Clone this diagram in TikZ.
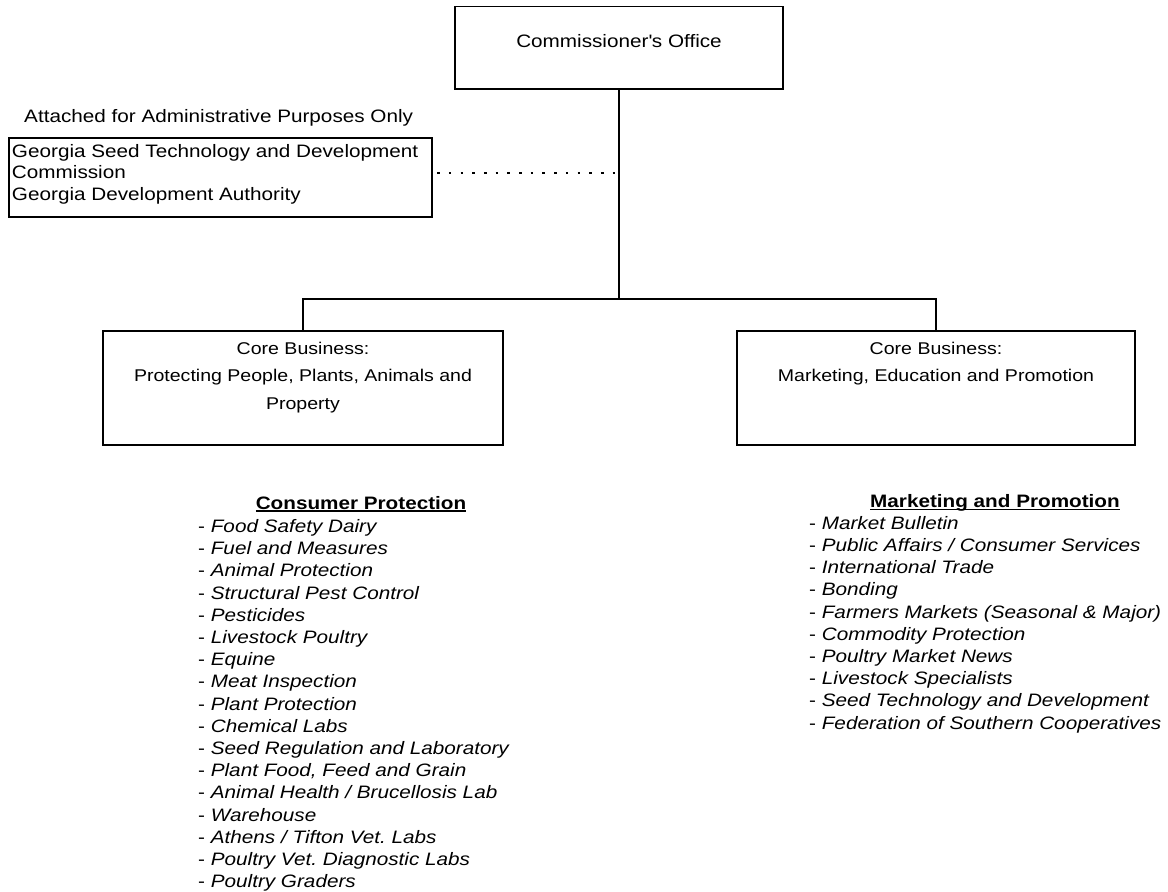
\documentclass[tikz,border=0pt]{standalone}
\usepackage{fontspec}
\setmainfont{Liberation Sans}[FakeStretch=1.15]
\frenchspacing
% bold heading with a rule just under the baseline
\newcommand{\headul}[1]{\setbox0=\hbox{#1}\rlap{\rule[-2.8pt]{\wd0}{1.4pt}}\box0}
\begin{document}
\begin{tikzpicture}[x=1pt,y=-1pt,
  box/.style={draw=black, line width=1.8pt, inner sep=0pt},
  link/.style={draw=black, line width=1.8pt},
  dotlink/.style={draw=black, line width=2.6pt, dash pattern=on 2.6pt off 9.1pt, dash phase=7.5pt},
  txt/.style={inner sep=0pt, font=\fontsize{18}{22.2}\selectfont},
  head/.style={inner sep=0pt, anchor=base, font=\fontsize{18}{22}\bfseries\selectfont},
  list/.style={inner sep=0pt, anchor=base west, font=\fontsize{18}{22.2}\selectfont},
]
\useasboundingbox (0,0) rectangle (1168,892);

% top of the chart
\node[box, minimum width=328pt, minimum height=82.5pt, text height=8pt, text depth=8pt,
      font=\fontsize{18}{22}\selectfont] (comm) at (619,47.75) {Commissioner\textquotesingle s Office};

% attached bodies
\node[txt, anchor=base west] (att) at (24,122) {Attached for Administrative Purposes Only};
\node[box, inner xsep=3pt] (gstdc) at (220.5,177.5)
  {\parbox[c][79pt][t]{417pt}{\raggedright\fontsize{18}{21.5}\selectfont\rule{0pt}{19pt}Georgia Seed Technology and Development\\Commission\\Georgia Development Authority}};

% core business boxes
\node[box] (prot) at (303,388)
  {\parbox[c][114pt][t]{400pt}{\centering\fontsize{17}{27.5}\selectfont\rule{0pt}{23pt}Core Business:\\Protecting People, Plants, Animals and\\Property}};
\node[box] (mkt) at (936,388)
  {\parbox[c][114pt][t]{398pt}{\centering\fontsize{17}{27.5}\selectfont\rule{0pt}{23pt}Core Business:\\Marketing, Education and Promotion}};

% connectors
\coordinate (hub) at (619,299);
\draw[link] (comm.south) -- (hub);
\draw[link] (prot.north) |- (hub);
\draw[link] (mkt.north) |- (hub);
\coordinate (tap) at ([yshift=4.5pt]gstdc.east);
\draw[dotlink] (tap) -- (tap -| hub);

% divisions
\node[head] (cphead) at (361,509) {\headul{Consumer Protection}};
\node[list] (cplist) at (198,532.5) {\parbox[t]{380pt}{\raggedright
- \textit{Food Safety Dairy}\\
- \textit{Fuel and Measures}\\
- \textit{Animal Protection}\\
- \textit{Structural Pest Control}\\
- \textit{Pesticides}\\
- \textit{Livestock Poultry}\\
- \textit{Equine}\\
- \textit{Meat Inspection}\\
- \textit{Plant Protection}\\
- \textit{Chemical Labs}\\
- \textit{Seed Regulation and Laboratory}\\
- \textit{Plant Food, Feed and Grain}\\
- \textit{Animal Health / Brucellosis Lab}\\
- \textit{Warehouse}\\
- \textit{Athens / Tifton Vet. Labs}\\
- \textit{Poultry Vet. Diagnostic Labs}\\
- \textit{Poultry Graders}}};

\node[head] (mphead) at (995,507.5) {\headul{Marketing and Promotion}};
\node[list] (mplist) at (809,529.3) {\parbox[t]{355pt}{\raggedright
- \textit{Market Bulletin}\\
- \textit{Public Affairs / Consumer Services}\\
- \textit{International Trade}\\
- \textit{Bonding}\\
- \textit{Farmers Markets (Seasonal \& Major)}\\
- \textit{Commodity Protection}\\
- \textit{Poultry Market News}\\
- \textit{Livestock Specialists}\\
- \textit{Seed Technology and Development}\\
- \textit{Federation of Southern Cooperatives}}};
\end{tikzpicture}
\end{document}
